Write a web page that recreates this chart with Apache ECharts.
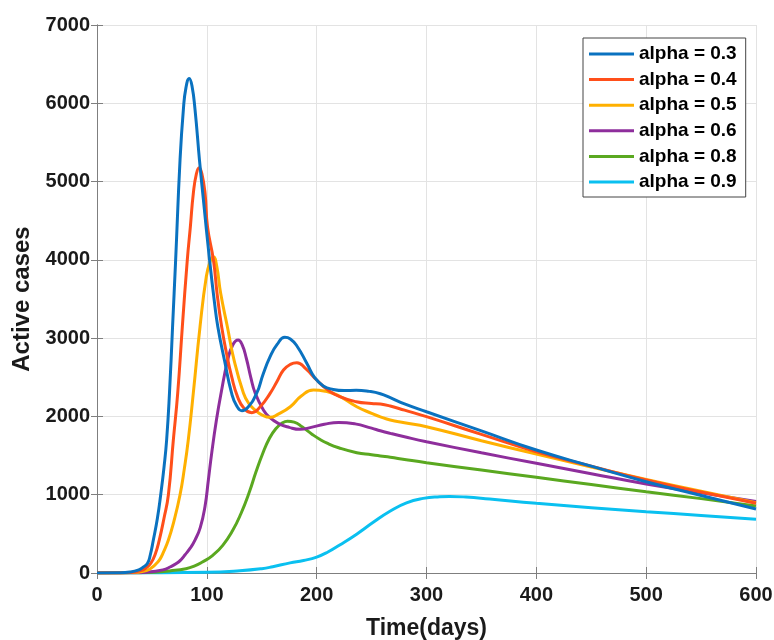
<!DOCTYPE html>
<html>
<head>
<meta charset="utf-8">
<script src="https://cdn.jsdelivr.net/npm/echarts@6/dist/echarts.min.js"></script>
<style>html,body{margin:0;padding:0;background:#fff}#c{width:774px;height:640px}</style>
</head>
<body>
<div id="c"></div>
<script>
// ---- data ----
const seriesNames = ['alpha = 0.3','alpha = 0.4','alpha = 0.5','alpha = 0.6','alpha = 0.8','alpha = 0.9'];
const xTicks = [0,100,200,300,400,500,600];
const yTicks = [0,1000,2000,3000,4000,5000,6000,7000];

const days03 = [0,20,30,38,42,46,48.5,51.3,55,58,61,63.4,66,68.8,71.6,75.6,78.6,81,84,86.5,89.3,93.3,97,102.5,107,110,116,122.5,127,132,137,145.5,151,157.6,164,171,176,182,191,198,206,215,225,236,248,258,267,280,300,350,400,450,500,550,600];
const vals03 = [0,2,12,40,75,124,230,421,700,1000,1350,1699,2300,3146,3997,5275,5913,6200,6318,6220,5913,5275,4750,3997,3450,3146,2720,2300,2140,2073,2110,2300,2530,2763,2920,3010,2990,2900,2680,2500,2390,2345,2330,2335,2320,2290,2240,2160,2060,1815,1571,1365,1166,990,817];

const days04 = [0,20,30,40,45,49,53,56.7,61,65,69.5,73.5,77.7,82.2,85,87.7,90.5,93,95.5,98.4,100.6,106,109.5,113.5,118,122.6,128,134,141,149,157.6,164,169.8,176,182,190,200,210,221,236,250,258,267,280,300,350,400,450,500,550,600];
const vals04 = [0,1,6,30,70,124,240,421,700,1000,1699,2300,3146,3997,4423,4849,5100,5177,5100,4849,4423,3997,3550,3146,2800,2507,2250,2100,2048,2130,2295,2450,2593,2665,2686,2610,2465,2340,2252,2188,2165,2158,2133,2080,1997,1770,1549,1365,1188,1035,890];

const days05 = [0,25,35,45,50,54.3,57.5,60,65,70,75.6,79.5,83.1,87.7,93.8,99.5,103,106,109,112.6,118.7,124.8,133.3,138,144,150,157.6,165,176,186,197,208,219,236.5,250,258,267,280,300,350,400,450,500,550,600];
const vals05 = [0,2,8,30,70,124,180,250,421,660,1000,1330,1699,2300,3146,3784,3980,4040,3920,3572,3146,2720,2300,2170,2082,2020,1988,2030,2124,2260,2337,2320,2273,2124,2040,1995,1954,1920,1869,1690,1520,1355,1196,1045,898];

const days06 = [0,30,45,60,67,72.6,76.5,80,85,89.2,94,98.3,101.4,104.4,108.7,113,119,123.5,128.5,132,136,140,144,151.5,157,165,175,185,195,207,220,235,250,258,267,280,300,350,400,450,500,550,600];
const vals06 = [0,2,10,40,80,124,170,230,320,421,580,847,1188,1528,1950,2300,2720,2910,2975,2920,2740,2500,2300,2082,1990,1911,1860,1835,1860,1900,1924,1905,1850,1817,1784,1740,1677,1535,1401,1268,1137,1025,915];

const days08 = [0,40,55,66,81,89,96,105.4,114.5,123.6,131,138.7,144.7,150.8,156.8,162.8,168.9,173.4,179.5,187,196,202,210,220,236.5,250,258,267,280,300,350,400,450,500,550,600];
const vals08 = [0,3,12,26,55,90,140,226,353,545,757,1034,1289,1523,1715,1842,1919,1940,1928,1864,1770,1715,1655,1600,1537,1510,1494,1478,1450,1409,1315,1222,1130,1038,950,856];

const days09 = [0,50,100,130,150,160,175.8,188,200,210.6,221,236.4,251.5,266.7,281.8,297,312,321,336,357.6,400,450,500,550,600];
const vals09 = [0,1,8,28,55,80,129,160,203,271,358,496,647,789,897,953,974,978,970,944,890,835,783,735,686];

const colors = ['#0a72c0','#ff4f1a','#ffb000','#8e2e9c','#5aa820','#0ac0f0'];
// ---- chart ----
const allDays = [days03,days04,days05,days06,days08,days09];
const allVals = [vals03,vals04,vals05,vals06,vals08,vals09];
const chart = echarts.init(document.getElementById('c'), null, {renderer:'canvas'});
const FONT = '"Liberation Sans", Arial, Helvetica, sans-serif';
const axisCommon = {
  axisLine:{show:true,lineStyle:{color:'#7f7f7f',width:1}},
  axisTick:{show:true,inside:true,length:6,lineStyle:{color:'#7f7f7f'}},
};
const series = seriesNames.map((n,i)=>({
  name:n, type:'line', xAxisIndex:0, yAxisIndex:0,
  data: allDays[i].map((d,j)=>[d, allVals[i][j]]),
  showSymbol:false, symbol:'none', smooth:0.5,
  lineStyle:{color:colors[i],width:3}, itemStyle:{color:colors[i]},
  z: 10 - i
}));
const plainFmt = v => String(v);
chart.setOption({
  animation:false,
  backgroundColor:'#fff',
  color:colors,
  grid:{left:97,right:18,top:25,bottom:67,containLabel:false,outerBoundsMode:'none'},
  legend:{
    orient:'vertical', left:583, top:38,
    data:seriesNames,
    icon:'rect', itemWidth:45, itemHeight:3, itemGap:6.6,
    padding:[6.5,9,5.5,6],
    borderColor:'#444', borderWidth:1, backgroundColor:'#fff',
    textStyle:{fontFamily:FONT,fontWeight:'bold',fontSize:19,lineHeight:19,color:'#000'}
  },
  xAxis:[
    Object.assign({type:'value',position:'bottom',min:0,max:600,interval:100,
      name:'Time(days)',nameLocation:'middle',nameGap:44,
      nameTextStyle:{fontFamily:FONT,fontWeight:'bold',fontSize:23,color:'#1a1a1a'},
      axisLabel:{fontFamily:FONT,fontWeight:'bold',fontSize:20,color:'#1a1a1a',margin:12,formatter:plainFmt},
      splitLine:{show:true,lineStyle:{color:'#e3e3e3',width:1}}},axisCommon),
    Object.assign({type:'value',position:'top',min:0,max:600,interval:100,
      axisLabel:{show:false},splitLine:{show:false}},axisCommon)
  ],
  yAxis:[
    Object.assign({type:'value',position:'left',min:0,max:7000,interval:1000,
      name:'Active cases',nameLocation:'middle',nameGap:57,
      nameTextStyle:{fontFamily:FONT,fontWeight:'bold',fontSize:24,color:'#1a1a1a'},
      axisLabel:{fontFamily:FONT,fontWeight:'bold',fontSize:20,color:'#1a1a1a',margin:7,formatter:plainFmt},
      splitLine:{show:true,lineStyle:{color:'#e3e3e3',width:1}}},axisCommon),
    Object.assign({type:'value',position:'right',min:0,max:7000,interval:1000,
      axisLabel:{show:false},splitLine:{show:false}},axisCommon)
  ],
  series:series
});
</script>
</body>
</html>
